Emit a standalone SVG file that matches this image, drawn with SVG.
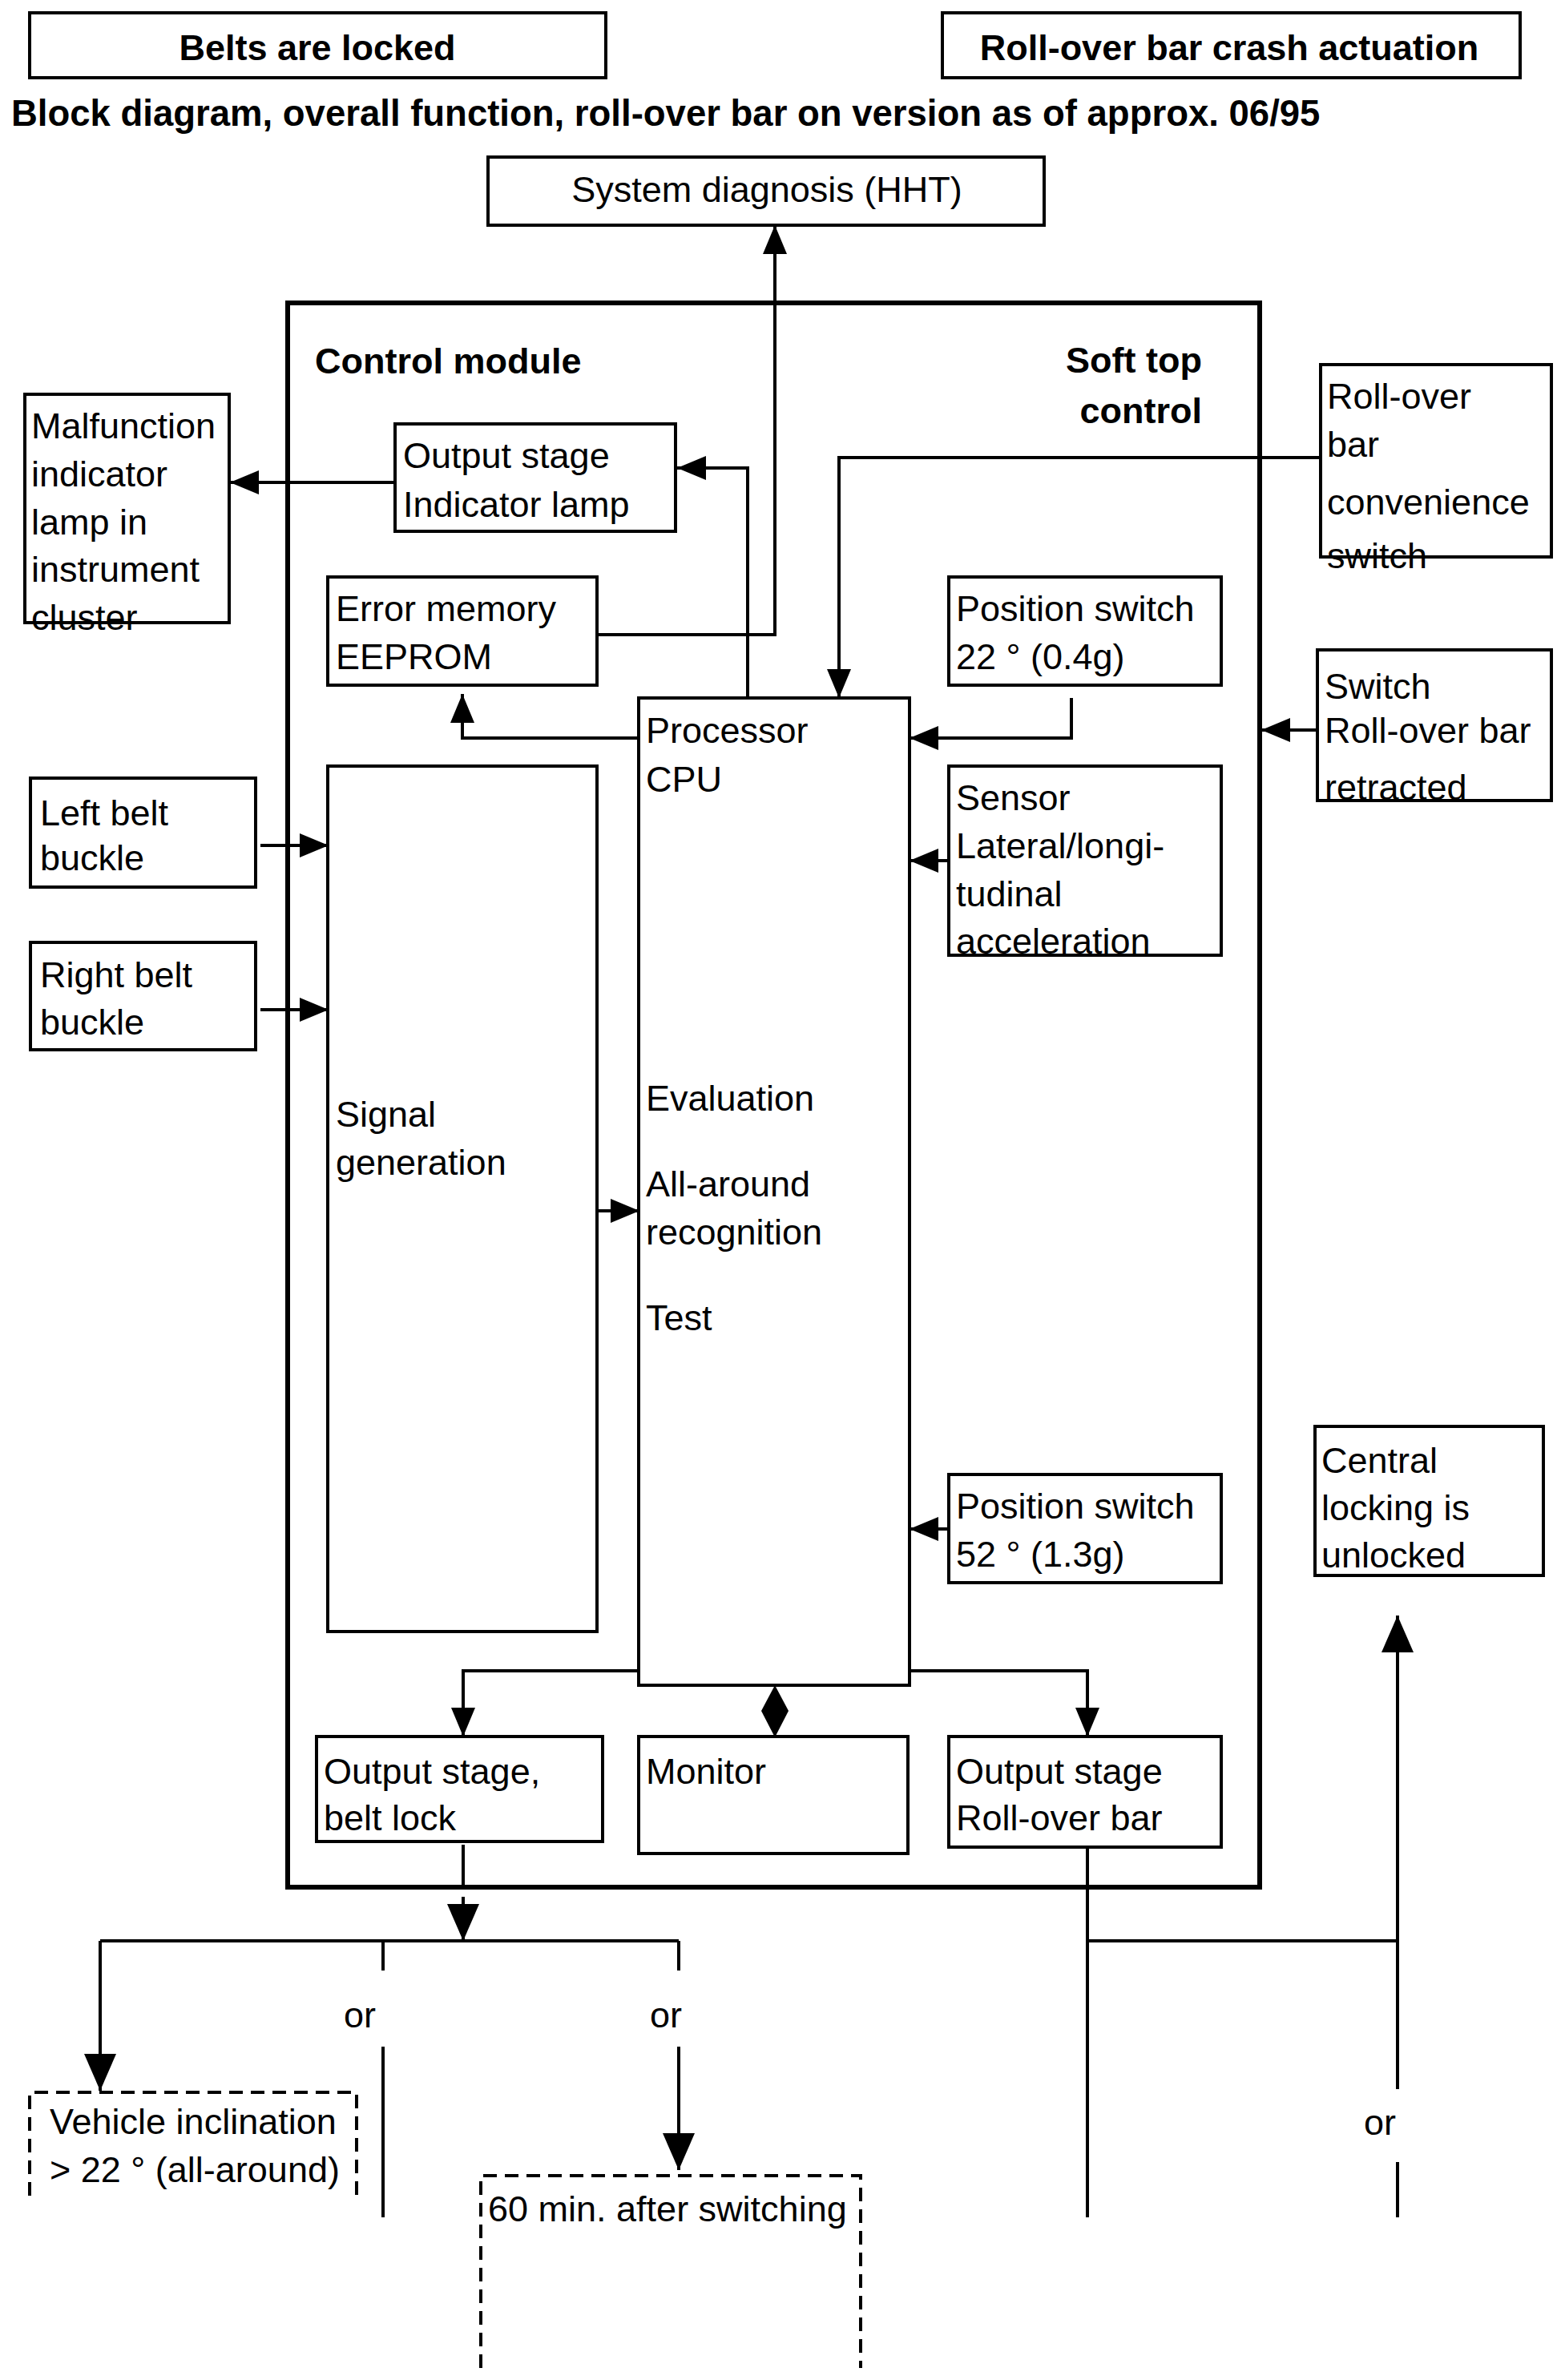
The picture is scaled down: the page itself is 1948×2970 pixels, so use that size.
<svg xmlns="http://www.w3.org/2000/svg" width="1948" height="2970" viewBox="0 0 1948 2970">
<defs>
<style>
text{font-family:"Liberation Sans",Arial,sans-serif;font-size:45px;fill:#000}
.b{font-weight:bold}
.box{fill:none;stroke:#000;stroke-width:4}
.big{fill:none;stroke:#000;stroke-width:6}
.dash{fill:none;stroke:#000;stroke-width:4;stroke-dasharray:17 10}
.ln{fill:none;stroke:#000;stroke-width:4}
.a{marker-end:url(#ah)}
.A{marker-end:url(#AH)}
</style>
<marker id="ah" markerUnits="userSpaceOnUse" viewBox="0 0 36 30" markerWidth="36" markerHeight="30" refX="36" refY="15" orient="auto"><path d="M0,0 L36,15 L0,30 Z" fill="#000"/></marker>
<marker id="AH" markerUnits="userSpaceOnUse" viewBox="0 0 46 40" markerWidth="46" markerHeight="40" refX="46" refY="20" orient="auto"><path d="M0,0 L46,20 L0,40 Z" fill="#000"/></marker>
</defs>
<rect width="1948" height="2970" fill="#fff"/>

<g id="belts-locked"><rect class="box" x="37" y="16" width="719" height="81"/><text class="b" x="396" y="75" text-anchor="middle">Belts are locked</text></g>
<g id="crash-actuation"><rect class="box" x="1176" y="16" width="721" height="81"/><text class="b" x="1534" y="75" text-anchor="middle">Roll-over bar crash actuation</text></g>
<g id="title"><text class="b" x="14" y="157" style="font-size:45.5px">Block diagram, overall function, roll-over bar on version as of approx. 06/95</text></g>

<g id="system-diagnosis"><rect class="box" x="609" y="196" width="694" height="85"/><text x="957" y="252" text-anchor="middle">System diagnosis (HHT)</text></g>

<g id="control-module"><rect class="big" x="359" y="378" width="1213" height="1977"/>
<text class="b" x="393" y="466">Control module</text>
<text class="b" x="1500" y="465" text-anchor="end">Soft top</text>
<text class="b" x="1500" y="528" text-anchor="end">control</text></g>

<g id="malfunction-lamp"><rect class="box" x="31" y="492" width="255" height="285"/>
<text x="39" y="547">Malfunction</text><text x="39" y="607">indicator</text><text x="39" y="667">lamp in</text><text x="39" y="726">instrument</text><text x="39" y="786">cluster</text></g>

<g id="output-indicator"><rect class="box" x="493" y="529" width="350" height="134"/>
<text x="503" y="584">Output stage</text><text x="503" y="645">Indicator lamp</text></g>

<g id="error-memory"><rect class="box" x="409" y="720" width="336" height="135"/>
<text x="419" y="775">Error memory</text><text x="419" y="835">EEPROM</text></g>

<g id="cpu"><rect class="box" x="797" y="871" width="338" height="1232"/>
<text x="806" y="927">Processor</text><text x="806" y="988">CPU</text>
<text x="806" y="1386">Evaluation</text><text x="806" y="1493">All-around</text><text x="806" y="1553">recognition</text><text x="806" y="1660">Test</text></g>

<g id="signal-generation"><rect class="box" x="409" y="956" width="336" height="1080"/>
<text x="419" y="1406">Signal</text><text x="419" y="1466">generation</text></g>

<g id="left-belt"><rect class="box" x="38" y="971" width="281" height="136"/>
<text x="50" y="1030">Left belt</text><text x="50" y="1086">buckle</text></g>

<g id="right-belt"><rect class="box" x="38" y="1176" width="281" height="134"/>
<text x="50" y="1232">Right belt</text><text x="50" y="1291">buckle</text></g>

<g id="pos-switch-22"><rect class="box" x="1184" y="720" width="340" height="135"/>
<text x="1193" y="775">Position switch</text><text x="1193" y="835">22 ° (0.4g)</text></g>

<g id="sensor"><rect class="box" x="1184" y="956" width="340" height="236"/>
<text x="1193" y="1011">Sensor</text><text x="1193" y="1071">Lateral/longi-</text><text x="1193" y="1131">tudinal</text><text x="1193" y="1190">acceleration</text></g>

<g id="pos-switch-52"><rect class="box" x="1184" y="1840" width="340" height="135"/>
<text x="1193" y="1895">Position switch</text><text x="1193" y="1955">52 ° (1.3g)</text></g>

<g id="convenience-switch"><rect class="box" x="1648" y="455" width="288" height="240"/>
<text x="1656" y="510">Roll-over</text><text x="1656" y="570">bar</text><text x="1656" y="642">convenience</text><text x="1656" y="709">switch</text></g>

<g id="retracted-switch"><rect class="box" x="1644" y="811" width="292" height="188"/>
<text x="1653" y="872">Switch</text><text x="1653" y="927">Roll-over bar</text><text x="1653" y="998">retracted</text></g>

<g id="central-locking"><rect class="box" x="1641" y="1780" width="285" height="186"/>
<text x="1649" y="1838">Central</text><text x="1649" y="1897">locking is</text><text x="1649" y="1956">unlocked</text></g>

<g id="output-belt-lock"><rect class="box" x="395" y="2167" width="357" height="131"/>
<text x="404" y="2226">Output stage,</text><text x="404" y="2284">belt lock</text></g>

<g id="monitor"><rect class="box" x="797" y="2167" width="336" height="146"/>
<text x="806" y="2226">Monitor</text></g>

<g id="output-rollover"><rect class="box" x="1184" y="2167" width="340" height="138"/>
<text x="1193" y="2226">Output stage</text><text x="1193" y="2284">Roll-over bar</text></g>

<g id="vehicle-inclination"><path class="dash" d="M37 2740 V2611 H445 V2740"/>
<text x="62" y="2663">Vehicle inclination</text><text x="62" y="2723">&gt; 22 ° (all-around)</text></g>

<g id="sixty-min"><path class="dash" d="M600 2955 V2715 H1074 V2955"/>
<text x="609" y="2772">60 min. after switching</text></g>

<g id="connectors">
<path class="ln a" d="M745 792 H967 V281"/>
<path class="ln a" d="M933 871 V584 H845"/>
<path class="ln a" d="M493 602 H287"/>
<path class="ln a" d="M797 921 H577 V866"/>
<path class="ln a" d="M1648 571 H1047 V871"/>
<path class="ln a" d="M1337 871 V921 H1135"/>
<path class="ln a" d="M1184 1074 H1135"/>
<path class="ln a" d="M1644 911 H1574"/>
<path class="ln a" d="M325 1055 H410"/>
<path class="ln a" d="M325 1260 H410"/>
<path class="ln a" d="M745 1511 H798"/>
<path class="ln a" d="M1184 1908 H1135"/>
<path class="ln a" d="M797 2085 H578 V2167"/>
<path class="ln a" d="M1135 2085 H1357 V2167"/>
<polygon points="967,2103 984,2135 967,2168 950,2135" fill="#000"/>
<path class="ln" d="M578 2302 V2355"/>
<path class="ln A" d="M578 2367 V2422"/>
<path class="ln" d="M125 2422 H847"/>
<path class="ln A" d="M125 2422 V2609"/>
<path class="ln" d="M478 2422 V2459 M478 2554 V2767"/>
<path class="ln" d="M847 2422 V2459"/>
<path class="ln A" d="M847 2554 V2708"/>
<path class="ln" d="M1357 2305 V2767 M1357 2422 H1744"/>
<path class="ln A" d="M1744 2607 V2016"/>
<path class="ln" d="M1744 2698 V2767"/>
<text x="469" y="2530" text-anchor="end">or</text>
<text x="851" y="2530" text-anchor="end">or</text>
<text x="1742" y="2664" text-anchor="end">or</text>
</g>
</svg>
